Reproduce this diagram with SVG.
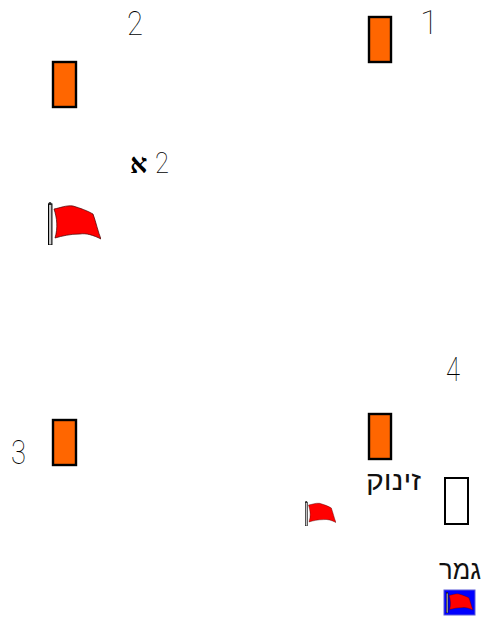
<svg xmlns="http://www.w3.org/2000/svg" width="482" height="618" viewBox="0 0 482 618">
<style>
.box{fill:#ff6600;stroke:#000;stroke-width:2.4}
.num{font-family:"Roboto","Liberation Sans",sans-serif;font-weight:100;font-size:34px;fill:#000}
.heb{font-family:"Liberation Sans","DejaVu Sans",sans-serif;font-size:27px;fill:#111}
</style>
<defs>
<symbol id="flag" viewBox="0 0 53 43" preserveAspectRatio="none">
<rect x="0.5" y="2" width="3.4" height="41" fill="#ccc" stroke="#000" stroke-width="1.1"/>
<circle cx="2" cy="1.6" r="1.5" fill="#222"/>
<path d="M6,7C12,6 18,3 25,4C32,6 40,9 45,12C48,20 50,30 53,37C45,33 38,31 32,32C22,32 14,34 7,36C10,26 9,16 6,7Z" fill="#ff0000" stroke="#400" stroke-width="0.7"/>
</symbol>
</defs>
<g id="connectors"></g>
<g id="node-1"><rect class="box" x="369" y="17" width="22" height="45"/><text class="num" x="420" y="34">1</text></g>
<g id="node-2"><rect class="box" x="53" y="62" width="23" height="45"/><text class="num" x="127" y="35" textLength="16" lengthAdjust="spacingAndGlyphs">2</text></g>
<g id="node-2a"><text class="num" style="font-size:29px" x="155" y="173" textLength="14" lengthAdjust="spacingAndGlyphs">2</text><text x="130" y="173" font-family="'Liberation Serif','DejaVu Serif',serif" font-weight="700" font-size="27">א</text></g>
<g id="flag-large"><use href="#flag" x="48" y="202" width="53" height="43"/></g>
<g id="node-3"><rect class="box" x="53" y="420" width="23" height="45"/><text class="num" x="11" y="464" textLength="15" lengthAdjust="spacingAndGlyphs">3</text></g>
<g id="node-4"><rect class="box" x="369" y="414" width="22" height="45"/><text class="num" x="446" y="381" textLength="14" lengthAdjust="spacingAndGlyphs">4</text></g>
<g id="start-label"><text class="heb" x="366" y="490" textLength="55" lengthAdjust="spacingAndGlyphs">זינוק</text></g>
<g id="start-box"><rect x="445" y="478" width="23" height="46" fill="#fff" stroke="#000" stroke-width="2"/></g>
<g id="flag-small"><use href="#flag" x="305" y="501" width="31" height="25"/></g>
<g id="finish-label"><text class="heb" x="439" y="579" textLength="42" lengthAdjust="spacingAndGlyphs">גמר</text></g>
<g id="finish"><rect x="444" y="590" width="31" height="25" fill="#0000ff" stroke="#5a5ad8" stroke-width="1"/><use href="#flag" x="446" y="592" width="27" height="21"/></g>
</svg>
